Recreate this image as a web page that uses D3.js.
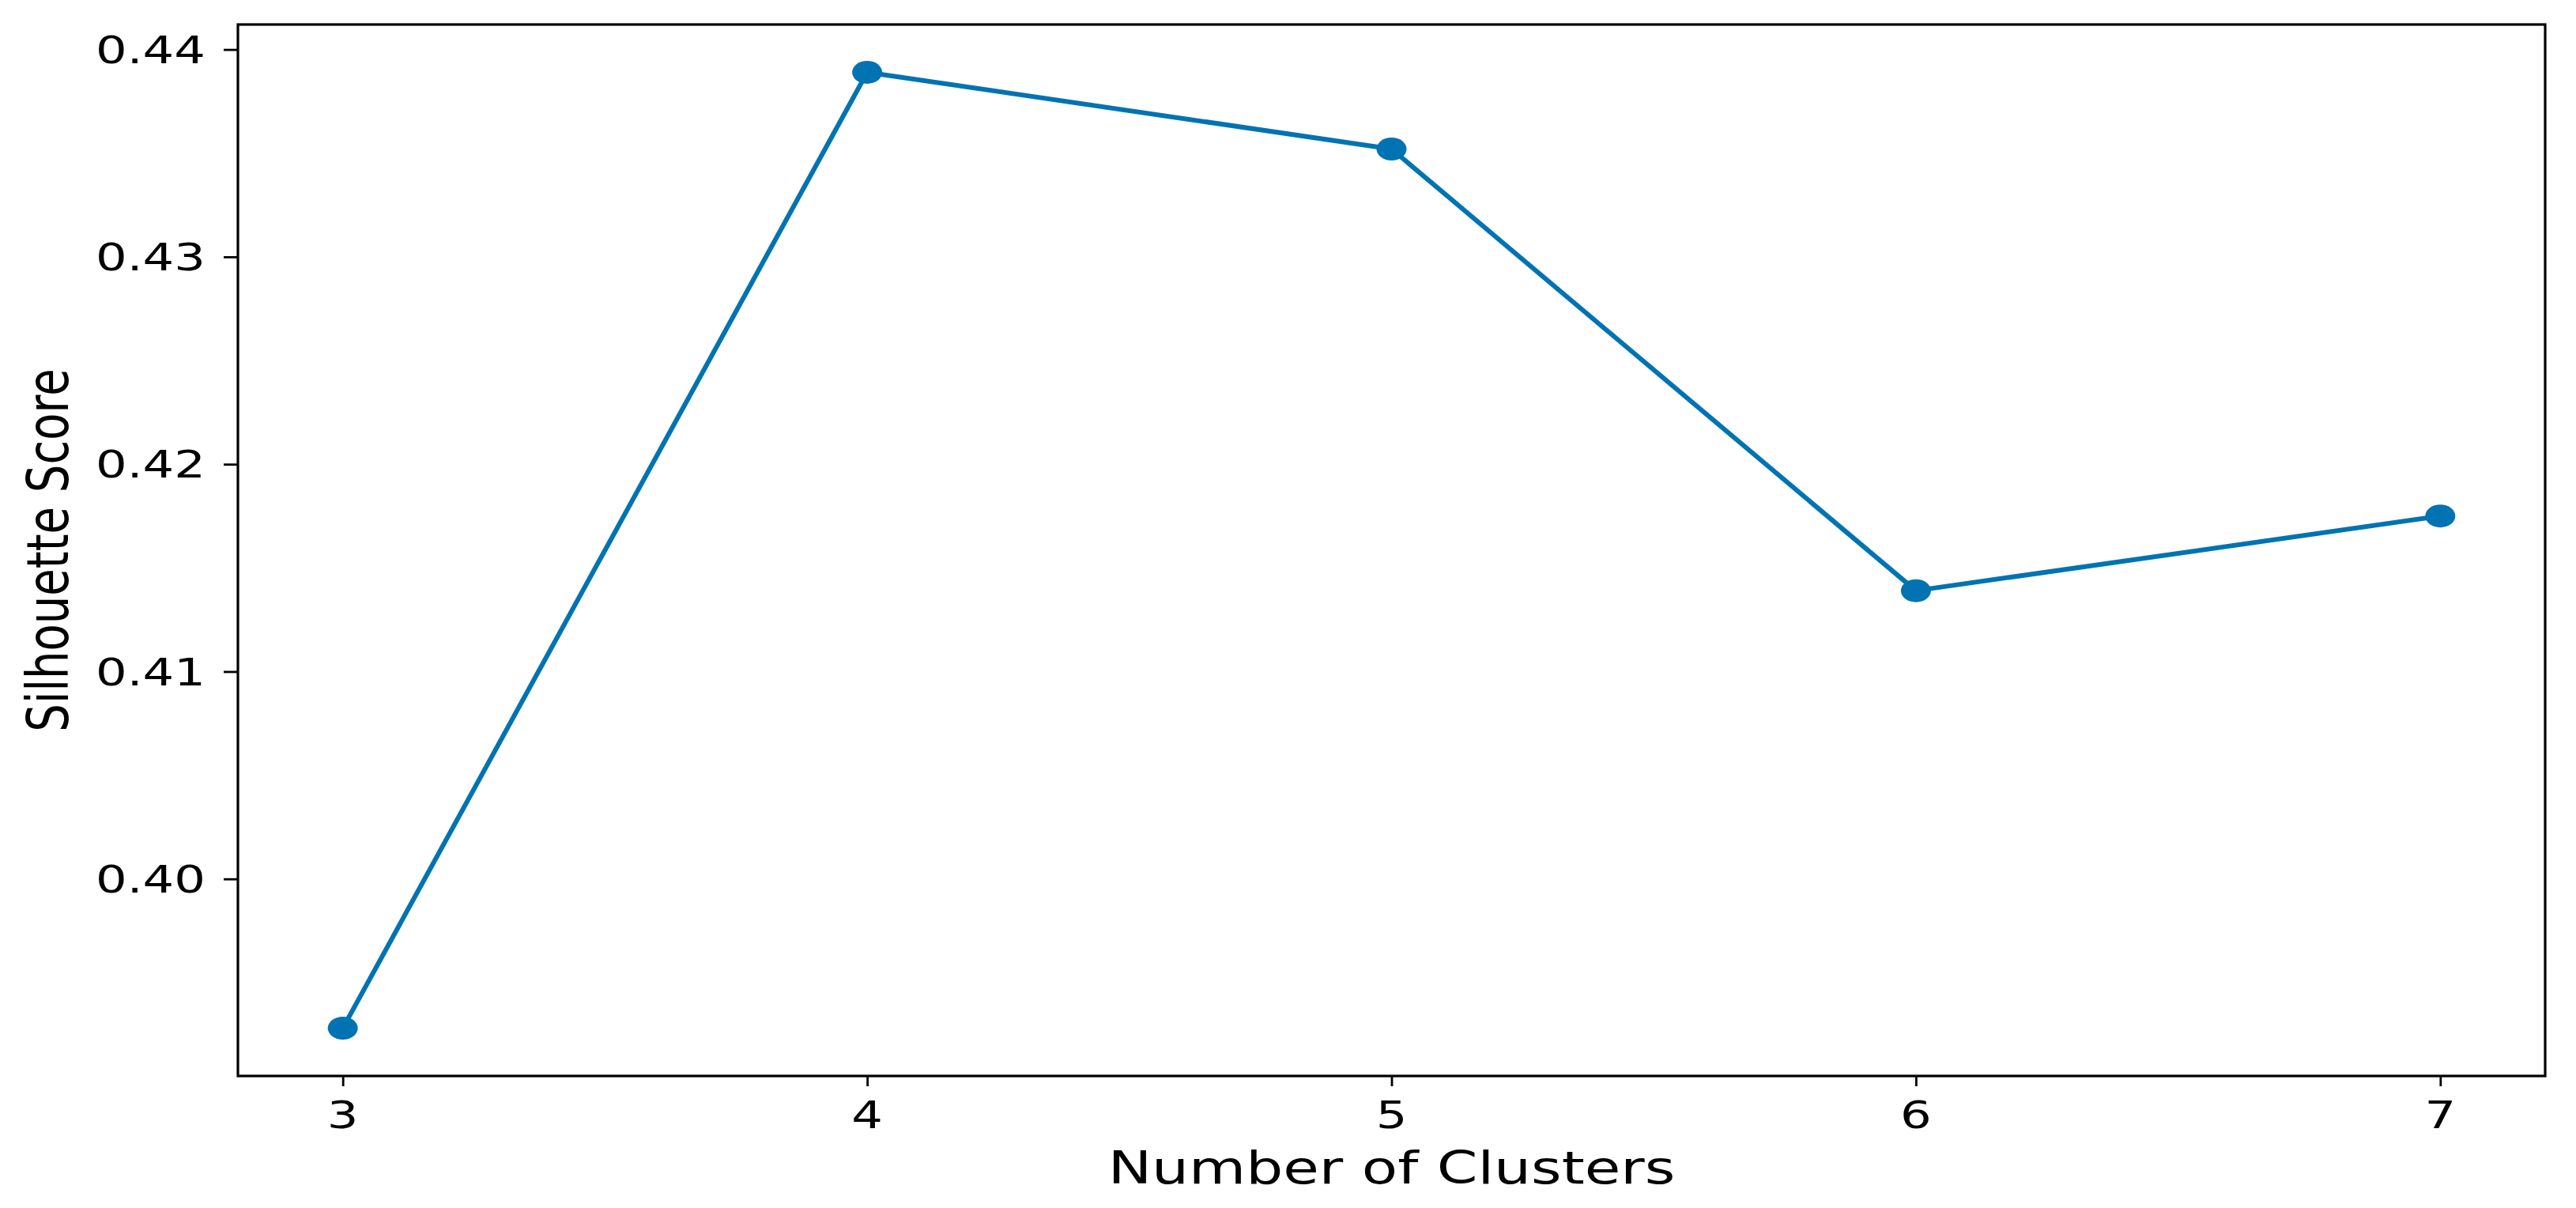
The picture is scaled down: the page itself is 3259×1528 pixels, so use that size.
<!DOCTYPE html>
<html>
<head>
<meta charset="utf-8">
<script src="https://cdn.jsdelivr.net/npm/d3@7"></script>
<style>
  body { margin: 0; background: #fff; }
  text { font-family: "DejaVu Sans", sans-serif; fill: #000; }
</style>
</head>
<body>
<svg id="chart"></svg>
<script>
// values
const clusters = [3, 4, 5, 6, 7];
const scores = [0.3928, 0.4389, 0.4352, 0.4139, 0.4175];
const yTicks = [0.40, 0.41, 0.42, 0.43, 0.44];
const xLabel = 'Number of Clusters';
const yLabel = 'Silhouette Score';

const WIDTH = 3259, HEIGHT = 1528;
const MARGIN = { TOP: 31, BOTTOM: 167, LEFT: 301, RIGHT: 39 };
const STRETCH = 1.3; // the picture's text is wider than it is tall
const COLOR = '#0173b2';

const svg = d3.select('#chart')
  .attr('width', WIDTH)
  .attr('height', HEIGHT);

// matplotlib style 5% margins around the data
const xExt = d3.extent(clusters), yExt = d3.extent(scores);
const xPad = (xExt[1] - xExt[0]) * 0.05, yPad = (yExt[1] - yExt[0]) * 0.05;

const x = d3.scaleLinear()
  .domain([xExt[0] - xPad, xExt[1] + xPad])
  .range([MARGIN.LEFT, WIDTH - MARGIN.RIGHT]);
const y = d3.scaleLinear()
  .domain([yExt[0] - yPad, yExt[1] + yPad])
  .range([HEIGHT - MARGIN.BOTTOM, MARGIN.TOP]);

const bottom = HEIGHT - MARGIN.BOTTOM;

// ticks only, labels drawn below
const xAxis = svg.append('g')
  .attr('transform', `translate(0,${bottom})`)
  .call(d3.axisBottom(x).tickValues(clusters).tickSize(13).tickFormat(''));
const yAxis = svg.append('g')
  .attr('transform', `translate(${MARGIN.LEFT},0)`)
  .call(d3.axisLeft(y).tickValues(yTicks).tickSize(18).tickFormat(''));
[xAxis, yAxis].forEach(a => {
  a.select('.domain').remove();
  a.selectAll('.tick line').attr('stroke', '#000').attr('stroke-width', 2.8);
});

svg.append('g')
  .selectAll('text')
  .data(clusters)
  .enter()
  .append('text')
  .attr('text-anchor', 'middle')
  .attr('font-size', 48)
  .attr('transform', d => `translate(${x(d)},${bottom + 66}) scale(${STRETCH},1)`)
  .text(d => d);

svg.append('g')
  .selectAll('text')
  .data(yTicks)
  .enter()
  .append('text')
  .attr('text-anchor', 'end')
  .attr('font-size', 48)
  .attr('dy', '0.36em')
  .attr('transform', d => `translate(${MARGIN.LEFT - 41},${y(d)}) scale(${STRETCH},1)`)
  .text(d3.format('.2f'));

// frame
svg.append('rect')
  .attr('x', MARGIN.LEFT)
  .attr('y', MARGIN.TOP)
  .attr('width', WIDTH - MARGIN.LEFT - MARGIN.RIGHT)
  .attr('height', bottom - MARGIN.TOP)
  .attr('fill', 'none')
  .attr('stroke', '#000')
  .attr('stroke-width', 3.2);

const line = d3.line()
  .x((d, i) => x(clusters[i]))
  .y(d => y(d));

svg.append('path')
  .datum(scores)
  .attr('fill', 'none')
  .attr('stroke', COLOR)
  .attr('stroke-width', 6)
  .attr('stroke-linejoin', 'round')
  .attr('d', line);

svg.append('g')
  .selectAll('ellipse')
  .data(scores)
  .enter()
  .append('ellipse')
  .attr('cx', (d, i) => x(clusters[i]))
  .attr('cy', d => y(d))
  .attr('rx', 19)
  .attr('ry', 14.5)
  .attr('fill', COLOR);

svg.append('text')
  .attr('text-anchor', 'middle')
  .attr('font-size', 57)
  .attr('transform', `translate(${(MARGIN.LEFT + WIDTH - MARGIN.RIGHT) / 2},${bottom + 136}) scale(${STRETCH},1)`)
  .text(xLabel);

svg.append('text')
  .attr('text-anchor', 'middle')
  .attr('font-size', 56)
  .attr('transform', `translate(86,${(MARGIN.TOP + bottom) / 2}) scale(${STRETCH},1) rotate(-90)`)
  .text(yLabel);
</script>
</body>
</html>
